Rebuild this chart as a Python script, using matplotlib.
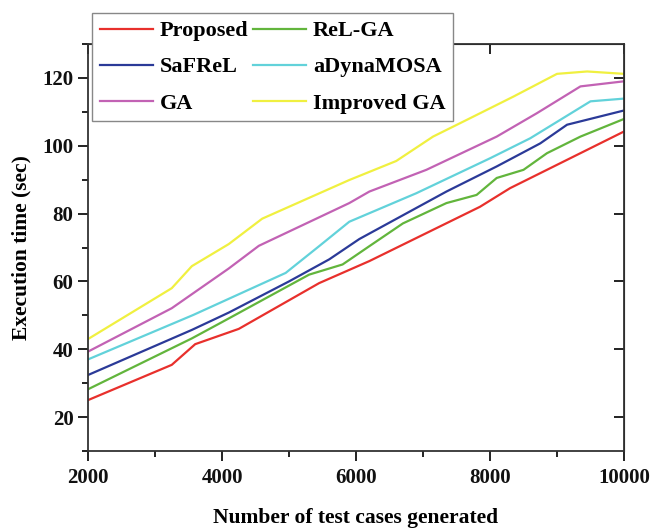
import matplotlib
matplotlib.use("Agg")
import matplotlib.pyplot as plt
from matplotlib.ticker import MultipleLocator

# ---- data ----
proposed_x = [2000, 3250, 3600, 4250, 5450, 6200, 7850, 8300, 10000]
proposed_y = [25.0, 35.4, 41.5, 46.0, 59.5, 66.0, 82.0, 87.5, 104.2]

relga_x = [2000, 3550, 4000, 5300, 5800, 6200, 6700, 7350, 7800, 8100, 8500, 8850, 9350, 10000]
relga_y = [28.2, 43.2, 48.0, 62.0, 65.0, 70.4, 77.1, 83.1, 85.5, 90.5, 92.9, 97.8, 102.7, 107.9]

safrel_x = [2000, 3550, 4100, 5000, 5600, 6050, 7350, 8100, 8750, 9150, 10000]
safrel_y = [32.4, 45.7, 50.8, 60.0, 66.5, 72.5, 86.5, 93.9, 100.7, 106.2, 110.4]

adyna_x = [2000, 3570, 4950, 5450, 5900, 6900, 8000, 8600, 9500, 10000]
adyna_y = [37.0, 50.1, 62.5, 70.4, 77.6, 86.0, 96.3, 102.2, 113.1, 113.9]

ga_x = [2000, 3250, 4100, 4550, 5900, 6200, 7050, 8100, 8700, 9350, 10000]
ga_y = [39.3, 52.1, 63.8, 70.5, 83.1, 86.5, 92.9, 102.7, 109.6, 117.5, 119.0]

imga_x = [2000, 3250, 3550, 4100, 4600, 5900, 6600, 7150, 7650, 8350, 9000, 9450, 10000]
imga_y = [43.0, 58.0, 64.5, 71.0, 78.5, 89.9, 95.5, 102.7, 107.6, 114.5, 121.2, 121.9, 121.2]

labels = ["Proposed", "ReL-GA", "SaFReL", "aDynaMOSA", "GA", "Improved GA"]
colors = ["#e8302c", "#62b53c", "#2b3a98", "#62d2da", "#c262b4", "#f0f040"]

xticks = [2000, 4000, 6000, 8000, 10000]
yticks = [20, 40, 60, 80, 100, 120]

plt.rcParams['font.family'] = ['Liberation Serif', 'DejaVu Serif']
plt.rcParams['font.weight'] = 'bold'

fig = plt.figure(figsize=(6.53, 5.32), dpi=100)
ax = fig.add_axes([88/653, 1-451/532, (624-88)/653, (451-44)/532])

series = [(proposed_x, proposed_y), (relga_x, relga_y), (safrel_x, safrel_y),
          (adyna_x, adyna_y), (ga_x, ga_y), (imga_x, imga_y)]
handles = []
for (xs, ys), lab, c in zip(series, labels, colors):
    h, = ax.plot(xs, ys, color=c, lw=1.6, label=lab)
    handles.append(h)

ax.set_xlim(2000, 10000)
ax.set_ylim(10, 130)
ax.set_xticks(xticks)
ax.set_yticks(yticks)
ax.xaxis.set_minor_locator(MultipleLocator(1000))
ax.yaxis.set_minor_locator(MultipleLocator(10))
ax.tick_params(which='major', direction='out', length=7, width=1.4, labelsize=15, colors='#222222')
ax.tick_params(axis='x', which='major', pad=5)
ax.tick_params(which='minor', direction='out', length=4, width=1.4, colors='#222222')
for lab in ax.get_xticklabels() + ax.get_yticklabels():
    lab.set_fontweight('bold')
    lab.set_color('#111111')
for s in ax.spines.values():
    s.set_linewidth(1.3)
    s.set_color('#333333')

sec_y = ax.secondary_yaxis('right')
sec_y.set_yticks(yticks)
sec_y.tick_params(direction='in', length=7, width=1.4, labelright=False, colors='#222222')
sec_x = ax.secondary_xaxis('top')
sec_x.set_xticks(xticks)
sec_x.tick_params(direction='in', length=7, width=1.4, labeltop=False, colors='#222222')

ax.set_xlabel("Number of test cases generated", fontsize=15.5, fontweight='bold', labelpad=15)
ax.set_ylabel("Execution time (sec)", fontsize=15.5, fontweight='bold', labelpad=8)

# row-wise legend order for a 2-column legend
order = [0, 2, 4, 1, 3, 5]
leg = ax.legend([handles[i] for i in order], [labels[i] for i in order],
                loc='upper left', bbox_to_anchor=(92/653, 1-13/532), bbox_transform=fig.transFigure,
                ncol=2, frameon=True, fancybox=False, framealpha=1,
                edgecolor='#888888', borderaxespad=0, borderpad=0.35, handlelength=2.4,
                handletextpad=0.3, columnspacing=0.2, labelspacing=0.7,
                prop={'weight': 'bold', 'size': 16})
leg.get_frame().set_linewidth(1.0)
leg.set_zorder(10)

fig.savefig("out.png", dpi=100)
